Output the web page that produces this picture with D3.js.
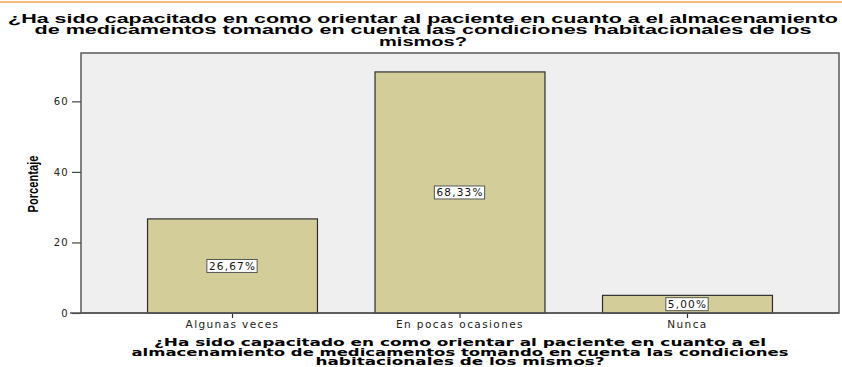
<!DOCTYPE html>
<html><head><meta charset="utf-8">
<script src="https://cdn.jsdelivr.net/npm/d3@7"></script>
<style>body{margin:0;background:#fff}svg{display:block}</style>
</head><body>
<script>
const categories = ["Algunas veces", "En pocas ocasiones", "Nunca"];
const values = [26.67, 68.33, 5.00];
const valueLabels = ["26,67%", "68,33%", "5,00%"];
const yTicks = [0, 20, 40, 60];
const titleLines = ["¿Ha sido capacitado en como orientar al paciente en cuanto a el almacenamiento",
  "de medicamentos tomando en cuenta las condiciones habitacionales de los", "mismos?"];
const xTitleLines = ["¿Ha sido capacitado en como orientar al paciente en cuanto a el",
  "almacenamiento de medicamentos tomando en cuenta las condiciones", "habitacionales de los mismos?"];
const yTitle = "Porcentaje";

const W = 842, H = 367;
const m = {l: 81, r: 839, t: 53, b: 313};
const svg = d3.select("body").append("svg").attr("width", W).attr("height", H);

svg.append("line").attr("x1", 0).attr("x2", W).attr("y1", 2).attr("y2", 2)
  .attr("stroke", "#f5a24f").attr("stroke-width", 1.5);

// title
const tl = [830, 777, 88];
titleLines.forEach((t, i) => {
  svg.append("text").attr("x", 423).attr("y", 22.5 + i * 11.5).attr("text-anchor", "middle")
    .attr("font-family", "Liberation Sans, Arial, sans-serif").attr("font-weight", "bold")
    .attr("font-size", 13).attr("fill", "#000")
    .attr("textLength", tl[i]).attr("lengthAdjust", "spacingAndGlyphs").text(t);
});

const x = d3.scaleBand().domain(categories).range([m.l, m.r]).paddingInner(0.253).paddingOuter(0.2925);
const y = d3.scaleLinear().domain([0, 73.7]).range([m.b, m.t]);

svg.append("rect").attr("x", m.l).attr("y", m.t).attr("width", m.r - m.l).attr("height", m.b - m.t)
  .attr("fill", "#efefef").attr("stroke", "#5a5a5a").attr("stroke-width", 1.5);

// y axis
const ya = svg.append("g").attr("transform", `translate(${m.l},0)`)
  .call(d3.axisLeft(y).tickValues(yTicks).tickSize(9).tickPadding(3));
ya.select(".domain").remove();
ya.selectAll("line").attr("stroke", "#444").attr("stroke-width", 1.2);
ya.selectAll("text").attr("font-family", "DejaVu Sans, Verdana, sans-serif").attr("font-size", 10)
  .attr("letter-spacing", 1.3).attr("fill", "#222");

// bars
svg.selectAll(".bar").data(values).join("rect").attr("class", "bar")
  .attr("x", (d, i) => x(categories[i])).attr("width", x.bandwidth())
  .attr("y", d => y(d)).attr("height", d => y(0) - y(d))
  .attr("fill", "#d3ce99").attr("stroke", "#2e2e2e").attr("stroke-width", 1.2);

// x axis
const xa = svg.append("g").attr("transform", `translate(0,${m.b})`)
  .call(d3.axisBottom(x).tickSize(5).tickPadding(3));
xa.select(".domain").remove();
xa.selectAll("line").attr("stroke", "#333").attr("stroke-width", 1.2);
xa.selectAll("text").attr("font-family", "DejaVu Sans, Verdana, sans-serif").attr("font-size", 10.5)
  .attr("letter-spacing", 1.4).attr("fill", "#222");
svg.append("line").attr("x1", 70).attr("x2", m.r).attr("y1", m.b).attr("y2", m.b)
  .attr("stroke", "#555").attr("stroke-width", 1.5);

// value labels
values.forEach((v, i) => {
  const cx = x(categories[i]) + x.bandwidth() / 2;
  const cy = (y(v) + y(0)) / 2;
  const g = svg.append("g");
  const t = g.append("text").attr("x", cx).attr("y", cy + 4).attr("text-anchor", "middle")
    .attr("font-family", "DejaVu Sans, Verdana, sans-serif").attr("font-size", 10.5)
    .attr("letter-spacing", 1.2).attr("fill", "#111")
    .text(valueLabels[i]);
  const bb = t.node().getBBox();
  g.insert("rect", "text").attr("x", bb.x - 2).attr("y", cy - 6.5).attr("width", bb.width + 3).attr("height", 13)
    .attr("fill", "#fff").attr("stroke", "#555").attr("stroke-width", 1);
});

// y title
svg.append("text").attr("transform", "translate(38,184) rotate(-90)").attr("text-anchor", "middle")
  .attr("font-family", "Liberation Sans Narrow, Arial Narrow, sans-serif").attr("font-weight", "bold")
  .attr("font-size", 15).attr("textLength", 57).attr("lengthAdjust", "spacingAndGlyphs").text(yTitle);

// x title
const xl = [612, 657, 289];
xTitleLines.forEach((t, i) => {
  svg.append("text").attr("x", 460).attr("y", 346 + i * 9.6).attr("text-anchor", "middle")
    .attr("font-family", "DejaVu Sans, Verdana, sans-serif").attr("font-weight", "bold")
    .attr("font-size", 10.5).attr("fill", "#000")
    .attr("textLength", xl[i]).attr("lengthAdjust", "spacingAndGlyphs").text(t);
});
</script>
</body></html>
